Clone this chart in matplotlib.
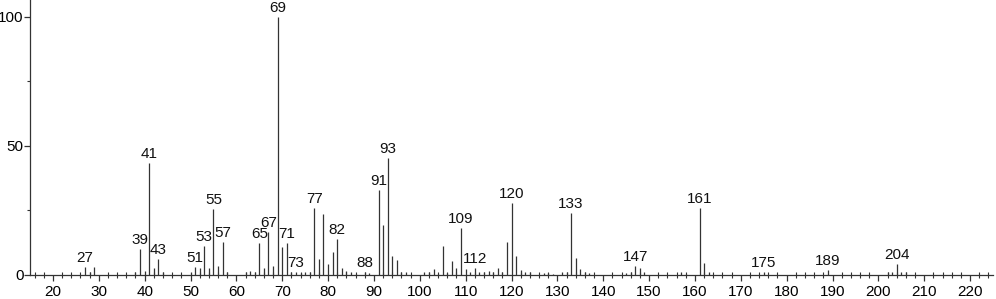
import matplotlib
matplotlib.use("Agg")
import matplotlib.pyplot as plt
from matplotlib.ticker import MultipleLocator

plt.rcParams["font.family"] = ["Liberation Sans Narrow", "Liberation Sans", "DejaVu Sans"]

# m/z values and relative intensities (%)
mz = [27, 28, 29, 38, 39, 40, 41, 42, 43, 44,
      50, 51, 52, 53, 54, 55, 56, 57, 58,
      62, 63, 64, 65, 66, 67, 68, 69, 70, 71, 72, 73, 74, 75, 76,
      77, 78, 79, 80, 81, 82, 83, 84, 85, 86, 88, 89,
      91, 92, 93, 94, 95, 96, 97,
      101, 102, 103, 104, 105, 106, 107, 108, 109, 110,
      111, 112, 113, 114, 115, 116, 117, 118, 119, 120,
      121, 122, 123, 124, 127, 128, 129, 131, 132, 133,
      134, 135, 136, 137, 145, 146, 147, 148, 149,
      157, 158, 161, 162, 163, 175, 189,
      202, 203, 204, 205, 206]
intensity = [3.2, 1.1, 3.2, 1.0, 10.1, 1.7, 43.5, 2.8, 6.2, 1.0,
             1.0, 3.2, 2.6, 11.2, 2.6, 25.4, 3.6, 12.9, 1.0,
             1.2, 1.5, 1.0, 12.5, 2.6, 16.5, 3.6, 100.0, 11.0, 12.5, 1.2, 1.3, 0.8, 1.0, 1.0,
             25.9, 6.3, 23.5, 4.3, 8.9, 13.9, 2.8, 1.7, 1.0, 0.5, 1.0, 0.7,
             32.9, 19.4, 45.2, 7.2, 5.8, 1.3, 1.0,
             1.0, 1.0, 2.2, 0.5, 11.3, 0.7, 5.5, 2.6, 18.1, 2.2,
             1.3, 2.8, 1.3, 1.0, 1.7, 1.0, 2.8, 1.0, 12.6, 27.7,
             7.5, 2.0, 1.0, 1.0, 0.7, 0.7, 0.5, 1.0, 1.0, 24.1,
             6.6, 2.3, 1.0, 0.8, 0.7, 1.0, 3.3, 2.6, 1.0,
             1.2, 0.5, 25.8, 4.8, 1.2, 1.0, 2.0,
             1.0, 1.2, 4.1, 1.2, 1.3]

# peaks that carry a m/z label
labeled = [27, 39, 41, 43, 51, 53, 55, 57, 65, 67, 69, 71, 73, 77, 82,
           88, 91, 93, 109, 112, 120, 133, 147, 161, 175, 189, 204]

fig = plt.figure(figsize=(9.96, 2.99), dpi=100)
ax = fig.add_axes([30 / 996, 24 / 299, 963 / 996, 275 / 299])

ax.vlines(mz, 0, intensity, color="#333333", linewidth=0.9)

for m, v in zip(mz, intensity):
    if m in labeled:
        ax.annotate(str(m), (m, v), xytext=(0, 1.5), textcoords="offset points",
                    ha="center", va="bottom", fontsize=11, color="#111111")

ax.set_xlim(15, 225)
ax.set_ylim(0, 106.5)

ax.xaxis.set_major_locator(MultipleLocator(10))
ax.xaxis.set_minor_locator(MultipleLocator(2))
ax.yaxis.set_major_locator(MultipleLocator(50))
ax.yaxis.set_minor_locator(MultipleLocator(25))

ax.set_xticks([t for t in range(20, 221, 10)])

for side in ["top", "right"]:
    ax.spines[side].set_visible(False)
for side in ["left", "bottom"]:
    ax.spines[side].set_color("#333333")
    ax.spines[side].set_linewidth(0.9)

ax.tick_params(axis="x", which="major", direction="out", length=4, width=0.9,
               color="#333333", pad=3, labelsize=11)
ax.tick_params(axis="x", which="minor", direction="inout", length=4, width=0.8,
               color="#333333")
ax.tick_params(axis="y", which="major", direction="out", length=4, width=0.9,
               color="#333333", pad=0.5, labelsize=11)
ax.tick_params(axis="y", which="minor", direction="out", length=2, width=0.8,
               color="#333333")

fig.savefig("out.png", dpi=100)
